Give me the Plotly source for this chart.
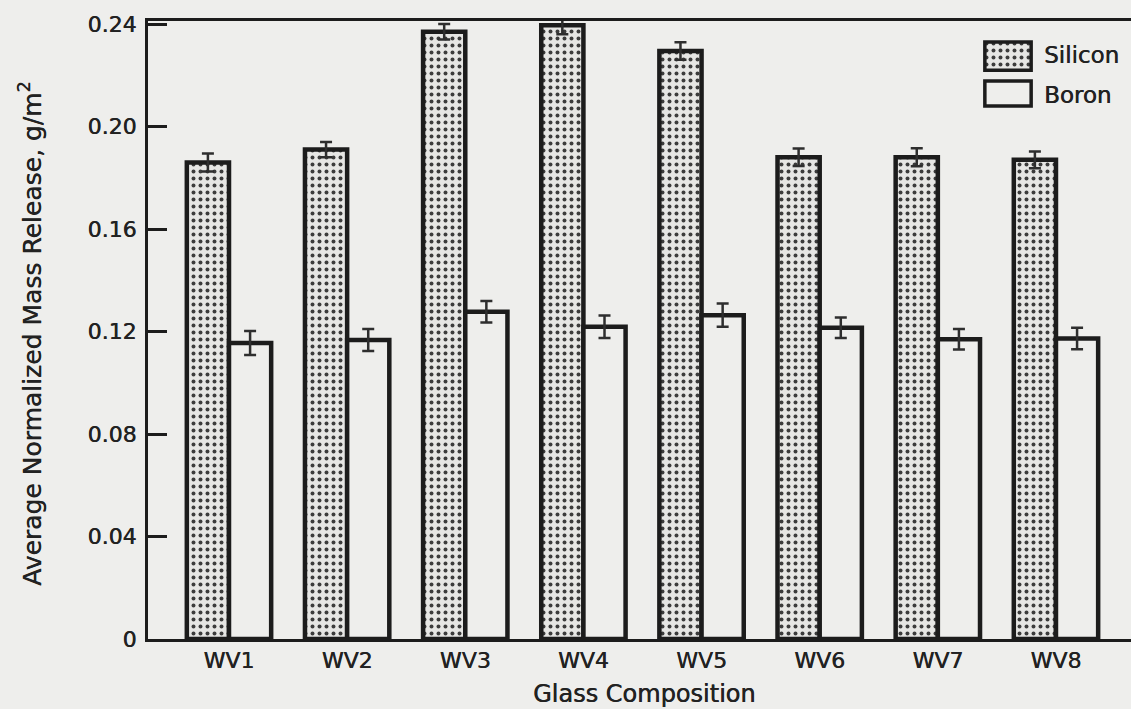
import plotly.graph_objects as go

# Glass compositions and measured normalized mass release (g/m^2)
categories = ["WV1", "WV2", "WV3", "WV4", "WV5", "WV6", "WV7", "WV8"]
silicon = [0.186, 0.191, 0.237, 0.2395, 0.2295, 0.188, 0.188, 0.187]
silicon_err = [0.0035, 0.003, 0.003, 0.0035, 0.0034, 0.0034, 0.0035, 0.0033]
boron = [0.1155, 0.1167, 0.1277, 0.1219, 0.1264, 0.1215, 0.117, 0.1173]
boron_err = [0.0047, 0.0043, 0.0042, 0.0044, 0.0045, 0.004, 0.004, 0.0042]
y_ticks = [0, 0.04, 0.08, 0.12, 0.16, 0.20, 0.24]
y_tick_text = ["0", "0.04", "0.08", "0.12", "0.16", "0.20", "0.24"]

W, H = 1131, 709
ML, MR, MT, MB = 148, 0, 21, 70
PW, PH = W - ML - MR, H - MT - MB

INK = "#1c1c1c"
TEXT = "#222222"
PAPER = "#eeeeec"
FONT = "DejaVu Sans, Arial, sans-serif"
HEAVY = "0.45px 0 0 #222222"
BAR_W = 0.357

dots = dict(shape=".", fgcolor="#3c3c3c", bgcolor="#e6e6e4", size=7, solidity=0.25, fillmode="replace")


def px_x(p):
    return (p - ML) / PW


def px_y(p):
    return (H - MB - p) / PH


def tfont(size):
    return dict(size=size, family=FONT, color=TEXT, shadow=HEAVY)


fig = go.Figure()

fig.add_trace(go.Bar(
    x=categories, y=silicon, name="Silicon",
    width=BAR_W, offset=-BAR_W,
    marker=dict(color="#e6e6e4", pattern=dots, line=dict(color=INK, width=4.5)),
    error_y=dict(type="data", array=silicon_err, color="#2e2e2e", thickness=2.5, width=6),
    showlegend=False,
))
fig.add_trace(go.Bar(
    x=categories, y=boron, name="Boron",
    width=BAR_W, offset=0,
    marker=dict(color=PAPER, line=dict(color=INK, width=4.5)),
    error_y=dict(type="data", array=boron_err, color="#2e2e2e", thickness=2.5, width=6),
    showlegend=False,
))

# Legend swatches on a small auxiliary axis pair
fig.add_trace(go.Bar(
    x=[0.5], y=[1.0 - 0.56], base=[0.56], width=[1.0],
    xaxis="x2", yaxis="y2", showlegend=False, hoverinfo="skip",
    marker=dict(color="#e6e6e4", pattern=dots, line=dict(color=INK, width=3.5)),
))
fig.add_trace(go.Bar(
    x=[0.5], y=[0.39], base=[0.0], width=[1.0],
    xaxis="x2", yaxis="y2", showlegend=False, hoverinfo="skip",
    marker=dict(color=PAPER, line=dict(color=INK, width=3.5)),
))

fig.update_layout(
    width=W, height=H,
    margin=dict(l=ML, r=MR, t=MT, b=MB, pad=0),
    paper_bgcolor=PAPER, plot_bgcolor=PAPER,
    font=dict(family=FONT, color=TEXT),
    barmode="overlay",
    xaxis=dict(
        type="category", range=[-0.6856, 7.635],
        showline=True, linecolor=INK, linewidth=3, mirror=True,
        showgrid=False, zeroline=False, ticks="",
        tickfont=tfont(22),
        ticklabelstandoff=0,
    ),
    yaxis=dict(
        range=[0, 0.2412],
        showline=True, linecolor=INK, linewidth=3,
        showgrid=False, zeroline=False,
        ticks="inside", ticklen=19, tickwidth=3, tickcolor=INK,
        tickvals=y_ticks, ticktext=y_tick_text,
        tickfont=tfont(22),
        ticklabelstandoff=4,
    ),
    xaxis2=dict(domain=[px_x(983), px_x(1033)], range=[-0.04, 1.04], anchor="y2",
                visible=False, fixedrange=True),
    yaxis2=dict(domain=[px_y(108), px_y(40)], range=[-0.03, 1.03], anchor="x2",
                visible=False, fixedrange=True),
    annotations=[
        dict(text="Glass Composition", xref="paper", yref="paper",
             x=px_x(644), y=px_y(694), xanchor="center", yanchor="middle",
             showarrow=False, font=tfont(24)),
        dict(text="Average Normalized Mass Release, g/m<sup>2</sup>", xref="paper", yref="paper",
             x=px_x(31), y=px_y(334), xanchor="center", yanchor="middle", textangle=-90,
             showarrow=False, font=tfont(25)),
        dict(text="Silicon", xref="paper", yref="paper",
             x=px_x(1042), y=px_y(55), xanchor="left", yanchor="middle",
             showarrow=False, font=tfont(23)),
        dict(text="Boron", xref="paper", yref="paper",
             x=px_x(1042), y=px_y(95), xanchor="left", yanchor="middle",
             showarrow=False, font=tfont(23)),
    ],
)

fig.write_html("out.html")
